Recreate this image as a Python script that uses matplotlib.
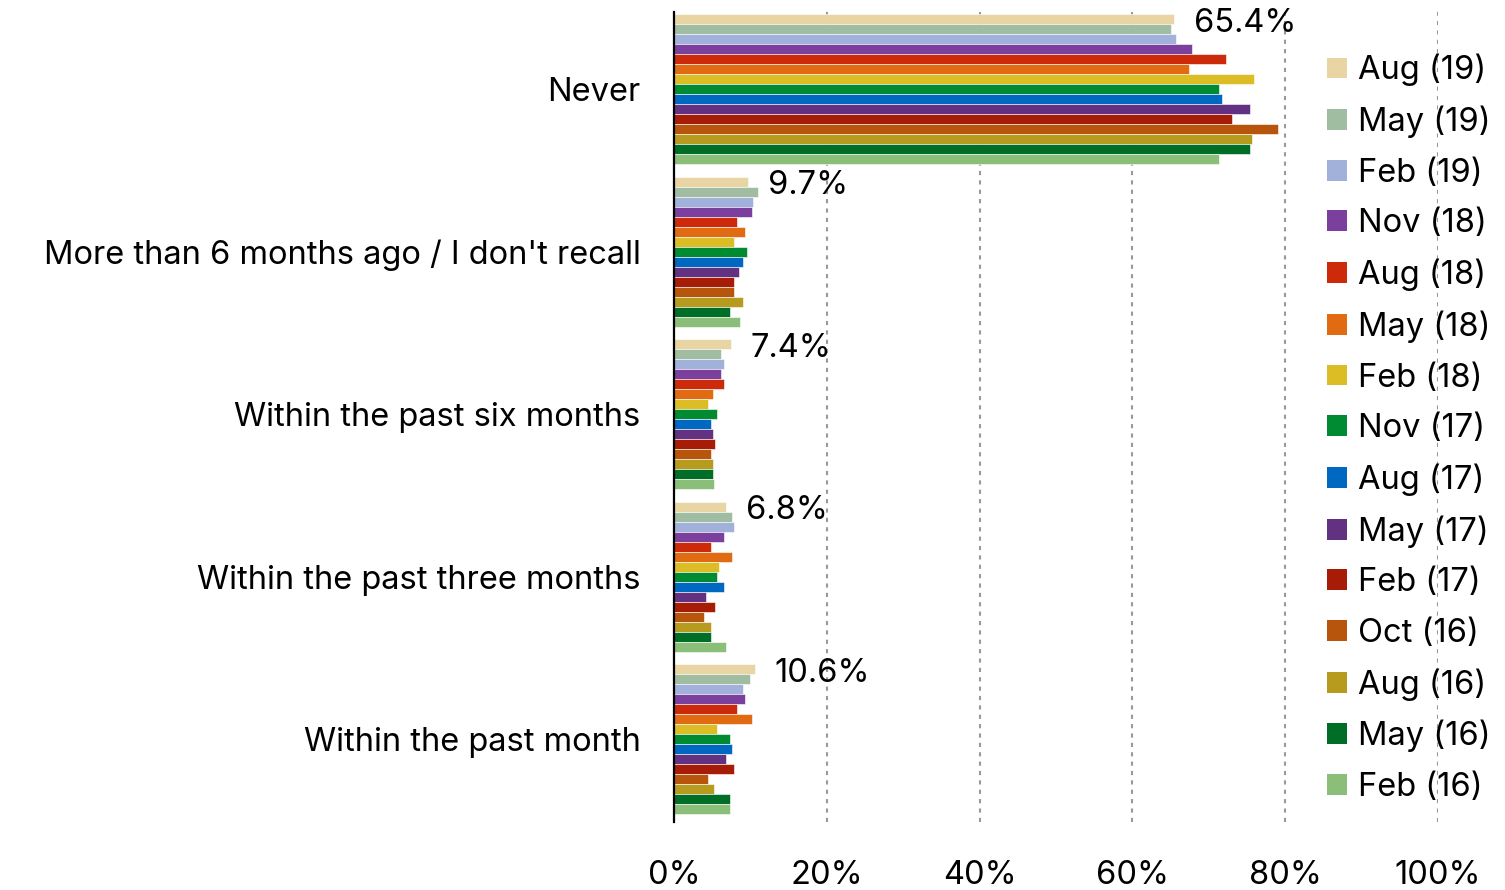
import matplotlib
matplotlib.use("Agg")
import matplotlib.pyplot as plt
from matplotlib.patches import Patch
import numpy as np

plt.rcParams['font.family'] = ['Inter', 'DejaVu Sans']

categories = [
    "Never",
    "More than 6 months ago / I don't recall",
    "Within the past six months",
    "Within the past three months",
    "Within the past month",
]

waves = ["Aug (19)", "May (19)", "Feb (19)", "Nov (18)", "Aug (18)", "May (18)",
         "Feb (18)", "Nov (17)", "Aug (17)", "May (17)", "Feb (17)", "Oct (16)",
         "Aug (16)", "May (16)", "Feb (16)"]

colors = ["#E8D5A3", "#A0BDA1", "#A1B1DA", "#7B3F9E", "#CC2A0A", "#E06B12",
          "#DDBD26", "#008B32", "#0068C0", "#633182", "#A61C07", "#B8550C",
          "#B79B1E", "#006E26", "#8BBE78"]

# percentage per wave, in category order
aug19 = [65.4, 9.7, 7.4, 6.8, 10.6]
may19 = [65.0, 11.0, 6.2, 7.6, 9.9]
feb19 = [65.7, 10.4, 6.5, 7.9, 9.0]
nov18 = [67.8, 10.2, 6.2, 6.5, 9.3]
aug18 = [72.3, 8.2, 6.5, 4.8, 8.2]
may18 = [67.4, 9.3, 5.1, 7.6, 10.2]
feb18 = [75.9, 7.9, 4.5, 5.9, 5.6]
nov17 = [71.4, 9.6, 5.6, 5.6, 7.3]
aug17 = [71.7, 9.0, 4.8, 6.5, 7.6]
may17 = [75.4, 8.5, 5.1, 4.2, 6.8]
feb17 = [73.1, 7.9, 5.4, 5.4, 7.9]
oct16 = [79.1, 7.9, 4.8, 3.9, 4.5]
aug16 = [75.7, 9.0, 5.1, 4.8, 5.3]
may16 = [75.4, 7.3, 5.1, 4.8, 7.3]
feb16 = [71.4, 8.7, 5.3, 6.8, 7.3]

series = [aug19, may19, feb19, nov18, aug18, may18, feb18, nov17, aug17,
          may17, feb17, oct16, aug16, may16, feb16]

fs = 23.5
fig = plt.figure(figsize=(15.05, 8.9), dpi=100)
ax = fig.add_axes([674 / 1505, 1 - 822 / 890, (1438 - 674) / 1505, 810 / 890])

n = len(series)
h = 0.0615
y = np.arange(len(categories))
for j, (vals, c) in enumerate(zip(series, colors)):
    ax.barh(y + (j - (n - 1) / 2) * h, vals, height=h, color=c,
            edgecolor='white', linewidth=0.4, zorder=3)

# value labels for the latest wave
for i, v in enumerate(aug19):
    ax.text(v + 2.6, i - (n - 1) / 2 * h + 0.025, f"{v:.1f}%", fontsize=fs,
            va='center', ha='left', zorder=4)

ax.set_xlim(0, 100)
ax.set_ylim(4.51, -0.474)
ax.set_xticks([0, 20, 40, 60, 80, 100])
ax.set_xticklabels([f"{t}%" for t in [0, 20, 40, 60, 80, 100]], fontsize=fs)
ax.set_yticks(y)
ax.set_yticklabels(categories, fontsize=fs)
ax.tick_params(axis='x', length=0, pad=27)
ax.tick_params(axis='y', length=0, pad=24)

for s in ['top', 'right', 'bottom']:
    ax.spines[s].set_visible(False)
ax.spines['left'].set_color('black')
ax.spines['left'].set_linewidth(1.6)
ax.spines['left'].set_zorder(5)

for t in [20, 40, 60, 80, 100]:
    ax.axvline(t, color='#999999', linewidth=1.5, linestyle=(0, (2, 2.5)), zorder=1)

handles = [Patch(facecolor=c, edgecolor='none') for c in colors]
fig.legend(handles, waves, loc='upper left', bbox_to_anchor=(1327 / 1505, 1 - 54 / 890),
           frameon=False, fontsize=fs, handlelength=0.61, handleheight=0.61,
           handletextpad=0.34, labelspacing=0.595, borderpad=0, borderaxespad=0)

fig.savefig("out.png", dpi=100)
